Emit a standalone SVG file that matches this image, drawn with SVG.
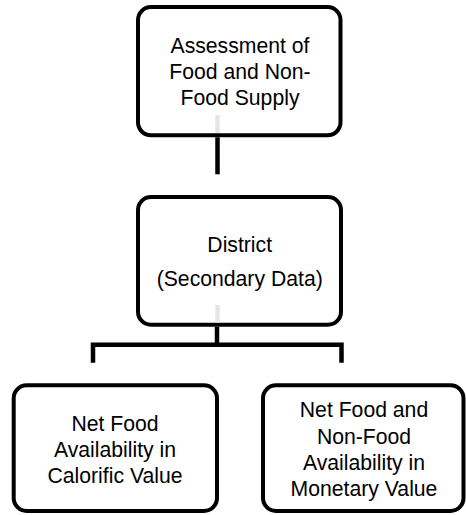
<svg xmlns="http://www.w3.org/2000/svg" width="466" height="515" viewBox="0 0 466 515">
<style>
.box{fill:#fff;stroke:#000;stroke-width:4}
.ln{fill:none;stroke:#000;stroke-width:4.5}
.ghost{fill:none;stroke:#e6e6e6;stroke-width:4.5}
text{font-family:"Liberation Sans",Arial,sans-serif;font-size:21.2px;fill:#000;text-anchor:middle}
</style>
<rect width="466" height="515" fill="#fff"/>
<g id="node-assessment">
<rect class="box" x="138" y="7" width="202.5" height="128.3" rx="13"/>
<text x="240" y="53.3">Assessment of</text>
<text x="240" y="79">Food and Non-</text>
<text x="240" y="104.5">Food Supply</text>
</g>
<g id="node-district">
<rect class="box" x="138" y="197" width="203" height="127.7" rx="13"/>
<text x="239.7" y="251.7">District</text>
<text x="239.7" y="286">(Secondary Data)</text>
</g>
<g id="node-calorific">
<rect class="box" x="13.7" y="385.3" width="203.3" height="125.7" rx="13"/>
<text x="115" y="430.7">Net Food</text>
<text x="115" y="456.7">Availability in</text>
<text x="115" y="482.7">Calorific Value</text>
</g>
<g id="node-monetary">
<rect class="box" x="263" y="385.3" width="200.5" height="125.7" rx="13"/>
<text x="364" y="417.3">Net Food and</text>
<text x="364" y="444">Non-Food</text>
<text x="364" y="470">Availability in</text>
<text x="364" y="496">Monetary Value</text>
</g>
<g id="connectors">
<line class="ghost" x1="217.5" y1="115" x2="217.5" y2="133"/>
<line class="ghost" x1="217.5" y1="305" x2="217.5" y2="322.7"/>
<path class="ln" d="M217.5 137.3V174.3"/>
<path class="ln" d="M217 326.7V345"/>
<path class="ln" d="M93 362.7V344.7H341.5V362.7"/>
</g>
</svg>
